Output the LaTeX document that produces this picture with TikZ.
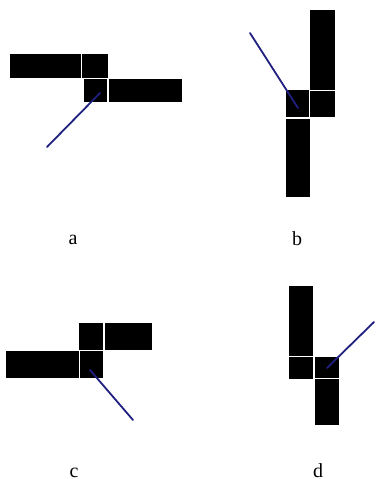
\documentclass[tikz,border=0pt]{standalone}
\usepackage{fontspec}
\setmainfont{Liberation Serif}
\definecolor{stick}{RGB}{32,32,128}
\tikzset{
  block/.style={fill=black,draw=none},
  stickline/.style={draw=stick,line width=1.8pt,line cap=round},
  lbl/.style={anchor=base,inner sep=0pt,font=\fontsize{20}{24}\selectfont}
}
\begin{document}
\begin{tikzpicture}[x=1pt,y=-1pt]
\useasboundingbox (0,0) rectangle (375,479);
% panel a
\fill[block] (10,54) rectangle (81,77.5);
\fill[block] (82,54) rectangle (108,77.5);
\fill[block] (84,78.5) rectangle (107,102);
\fill[block] (109,78.5) rectangle (182,102);
\coordinate (a1) at (47,147);
\coordinate (a2) at (100,93);
\draw[stickline] (a1) -- (a2);
\node[lbl] (la) at (73,244.5) {a};
% panel b
\fill[block] (310,10) rectangle (335,89.5);
\fill[block] (310,90.5) rectangle (335,117);
\fill[block] (286,90) rectangle (309,117);
\fill[block] (286,118.5) rectangle (310,197);
\coordinate (b1) at (250,33);
\coordinate (b2) at (298,108);
\draw[stickline] (b1) -- (b2);
\node[lbl] (lb) at (297,245) {b};
% panel c
\fill[block] (79,323) rectangle (103,349.5);
\fill[block] (105,323) rectangle (152,349.5);
\fill[block] (6,350.5) rectangle (78.5,378);
\fill[block] (79.5,350.5) rectangle (103,378);
\coordinate (c1) at (90,370);
\coordinate (c2) at (133,420);
\draw[stickline] (c1) -- (c2);
\node[lbl] (lc) at (74,477) {c};
% panel d
\fill[block] (289,286) rectangle (313,356);
\fill[block] (289,357) rectangle (313,379);
\fill[block] (314.5,357) rectangle (339,378);
\fill[block] (314.5,379) rectangle (339,425);
\coordinate (d1) at (327,368);
\coordinate (d2) at (374,322);
\draw[stickline] (d1) -- (d2);
\node[lbl] (ld) at (318,477) {d};
\end{tikzpicture}
\end{document}
